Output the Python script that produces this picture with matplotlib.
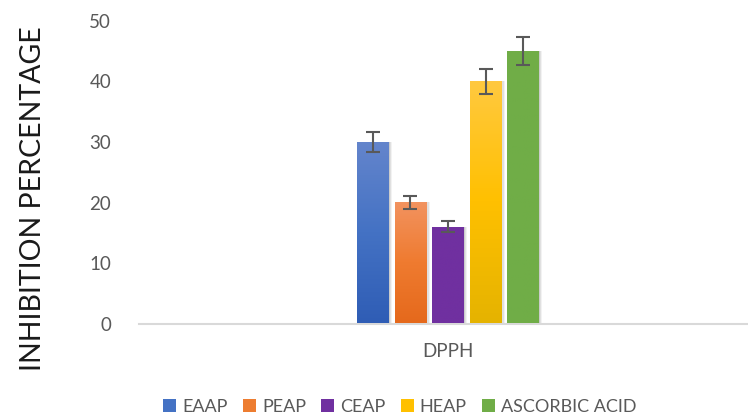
import numpy as np
import matplotlib
matplotlib.use("Agg")
import matplotlib.pyplot as plt
from matplotlib.patches import Patch
from matplotlib.colors import LinearSegmentedColormap

plt.rcParams['font.family'] = ['Lato', 'DejaVu Sans']

category = "DPPH"
series = ["EAAP", "PEAP", "CEAP", "HEAP", "ASCORBIC ACID"]
values = [30, 20, 16, 40, 45]
errors = [1.6, 1.0, 0.9, 2.0, 2.3]
# gradient (top, middle, bottom) per series
grads = [
    ["#6485cc", "#4472c4", "#2f5db5"],
    ["#f29360", "#ef7b30", "#e5691c"],
    ["#7030a0", "#7030a0", "#7030a0"],
    ["#ffc940", "#ffc000", "#e5b300"],
    ["#70ad47", "#70ad47", "#70ad47"],
]
legend_cols = ["#4472c4", "#ed7d31", "#7030a0", "#ffc000", "#70ad47"]

fig = plt.figure(figsize=(7.48, 4.19), dpi=100)
ax = fig.add_axes([139/748, (419-323.5)/419, (757-139)/748, (323.5-21)/419])

step = 0.1215
width = 0.101
x0 = 0
grad = np.linspace(0, 1, 256).reshape(-1, 1)
for i, (name, v, e) in enumerate(zip(series, values, errors)):
    xc = x0 + (i - 2) * step
    # soft shadow
    for k, a in zip([0.012, 0.008, 0.004], [0.05, 0.07, 0.09]):
        ax.bar(xc + k * 0.5, v, width + k, color="black", alpha=a, zorder=1, linewidth=0)
    b = ax.bar(xc, v, width, color=grads[i][1], zorder=2, linewidth=0)[0]
    cmap = LinearSegmentedColormap.from_list("g%d" % i, grads[i][::-1])
    im = ax.imshow(grad, cmap=cmap, extent=[xc - width/2, xc + width/2, 0, v],
                   origin="lower", aspect="auto", zorder=3)
    im.set_clip_path(b)
    ax.errorbar(xc, v, yerr=e, fmt="none", ecolor="#595959", elinewidth=1.5,
                capsize=5, capthick=1.5, zorder=4)

ax.set_xlim(-1, 1)
ax.set_ylim(0, 50)
ax.set_yticks([0, 10, 20, 30, 40, 50])
ax.set_xticks([x0])
ax.set_xticklabels([category])
for s in ["top", "right", "left"]:
    ax.spines[s].set_visible(False)
ax.spines["bottom"].set_color("#d9d9d9")
ax.spines["bottom"].set_linewidth(1.5)
ax.tick_params(axis="both", length=0, labelsize=13.5, labelcolor="#595959")
ax.tick_params(axis="y", pad=20)
ax.tick_params(axis="x", pad=14)
fig.text(33/748, 1 - 199/419, "INHIBITION PERCENTAGE", rotation=90, fontsize=20.5,
         color="#1a1a1a", ha="center", va="center")

handles = [Patch(facecolor=c, edgecolor="none") for c in legend_cols]
fig.legend(handles, series, loc="center", bbox_to_anchor=(400/748, 1 - 407/419),
           ncol=5, frameon=False, fontsize=13, labelcolor="#595959",
           handlelength=0.7, handleheight=0.7, handletextpad=0.35, columnspacing=0.85)

fig.savefig("out.png", dpi=100)
